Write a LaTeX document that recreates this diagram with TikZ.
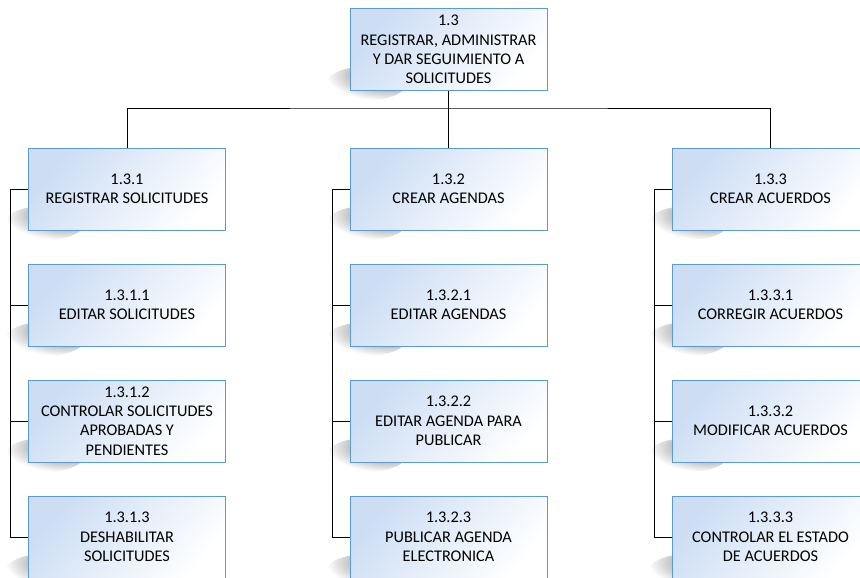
\documentclass[tikz,border=0pt]{standalone}
\usepackage{fontspec}
\setmainfont{Carlito}
\usetikzlibrary{fadings}
\definecolor{boxborder}{HTML}{5B9BD5}
\definecolor{boxtop}{HTML}{CCDDF4}
\tikzfading[name=softblob, inner color=transparent!10, outer color=transparent!100]
\tikzset{
  wbs/.style={draw=boxborder, line width=0.9pt, minimum width=197pt, minimum height=82pt,
    align=center, font=\fontsize{16.3}{19.3}\selectfont, inner sep=2pt,
    shading=axis, top color=boxtop, bottom color=white, shading angle=50},
  conn/.style={draw=black, line width=1pt},
  softshadow/.style={fill=black!85, fill opacity=0.8, path fading=softblob}
}
\newcommand{\wbsnode}[3]{%
  \fill[softshadow] (#2) ++(-82,34) ellipse [x radius=40, y radius=17];
  \node[wbs] (#1) at (#2) {#3};}
\begin{document}
\begin{tikzpicture}[x=1pt,y=-1pt]
\useasboundingbox (0,0) rectangle (860,578);
\clip (0,0) rectangle (860,578);
\fill[white] (0,0) rectangle (860,578);
% top
\wbsnode{top}{448.5,49.5}{1.3\\REGISTRAR, ADMINISTRAR\\Y DAR SEGUIMIENTO A\\SOLICITUDES}
% column 1
\wbsnode{a}{127,189}{1.3.1\\REGISTRAR SOLICITUDES}
\wbsnode{a1}{127,305}{1.3.1.1\\EDITAR SOLICITUDES}
\wbsnode{a2}{127,421}{1.3.1.2\\CONTROLAR SOLICITUDES\\APROBADAS Y\\PENDIENTES}
\wbsnode{a3}{127,537}{1.3.1.3\\DESHABILITAR\\SOLICITUDES}
% column 2
\wbsnode{b}{448.5,189}{1.3.2\\CREAR AGENDAS}
\wbsnode{b1}{448.5,305}{1.3.2.1\\EDITAR AGENDAS}
\wbsnode{b2}{448.5,421}{1.3.2.2\\EDITAR AGENDA PARA\\PUBLICAR}
\wbsnode{b3}{448.5,537}{1.3.2.3\\PUBLICAR AGENDA\\ELECTRONICA}
% column 3
\wbsnode{c}{770.5,189}{1.3.3\\CREAR ACUERDOS}
\wbsnode{c1}{770.5,305}{1.3.3.1\\CORREGIR ACUERDOS}
\wbsnode{c2}{770.5,421}{1.3.3.2\\MODIFICAR ACUERDOS}
\wbsnode{c3}{770.5,537}{1.3.3.3\\CONTROLAR EL ESTADO\\DE ACUERDOS}
% connectors
\coordinate (bus) at (448.5,108);
\draw[conn] (top.south) -- (bus);
\draw[conn] (a.north) |- (bus) -| (c.north);
\draw[conn] (bus) -- (b.north);
\foreach \p/\x in {a/10, b/332, c/654}{
  \draw[conn] (\p.west) -| (\x,537) -- (\p3.west);
  \draw[conn] (\x,305) -- (\p1.west);
  \draw[conn] (\x,421) -- (\p2.west);
}
\end{tikzpicture}
\end{document}
